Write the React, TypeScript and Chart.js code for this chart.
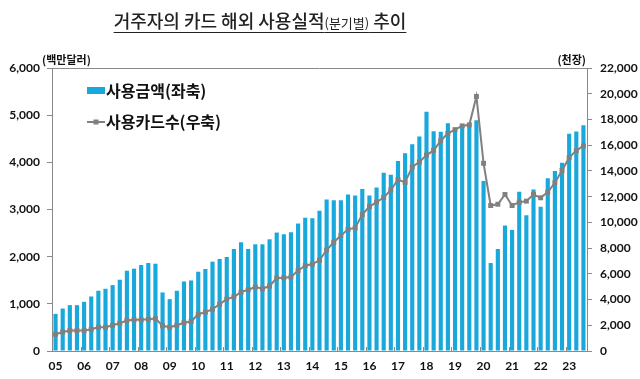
import React, { useEffect, useRef } from "react";
import { Chart, registerables } from "chart.js";

Chart.register(...registerables);

const years = ["05", "06", "07", "08", "09", "10", "11", "12", "13", "14", "15", "16", "17", "18", "19", "20", "21", "22", "23"];
const quarters = ["1Q", "2Q", "3Q", "4Q"];
const categories: string[] = years.flatMap((y) => quarters.map((q) => `${y}.${q}`)).slice(0, 75);

// 사용금액 (백만달러), left axis
const amount = [
  787, 900, 972, 972,
  1043, 1156, 1277, 1319,
  1397, 1511, 1702, 1745,
  1823, 1865, 1851, 1241,
  1099, 1277, 1475, 1496,
  1681, 1738, 1894, 1951,
  1993, 2163, 2305, 2163,
  2262, 2262, 2368, 2511,
  2475, 2518, 2702, 2823,
  2815, 2972, 3213, 3198,
  3198, 3319, 3298, 3433,
  3298, 3468, 3780, 3735,
  4028, 4191, 4383, 4550,
  5070, 4660, 4650, 4830,
  4720, 4810, 4830, 4894,
  3603, 1865, 2163, 2660,
  2567, 3376, 2879, 3426,
  3057, 3660, 3816, 3993,
  4607, 4652, 4787,
];

// 사용카드수 (천장), right axis
const cards = [
  1300, 1480, 1585, 1585,
  1585, 1690, 1845, 1845,
  2000, 2160, 2365, 2420,
  2420, 2470, 2520, 1960,
  1845, 2000, 2200, 2290,
  2860, 3020, 3250, 3640,
  4030, 4210, 4580, 4760,
  4970, 4840, 5050, 5670,
  5700, 5750, 6260, 6630,
  6760, 7050, 7850, 8450,
  8980, 9460, 9570, 10610,
  11230, 11570, 11930, 12520,
  13320, 13110, 14310, 14690,
  15230, 15590, 16350, 16920,
  17210, 17500, 17580, 19790,
  14590, 11310, 11410, 12170,
  11310, 11570, 11650, 12170,
  11910, 12350, 13080, 14040,
  15030, 15580, 15940,
];

const titleMain = "거주자의 카드 해외 사용실적";
const titleSub = "(분기별)";
const titleTail = " 추이";
const leftUnit = "(백만달러)";
const rightUnit = "(천장)";
const legendBar = "사용금액(좌축)";
const legendLine = "사용카드수(우축)";

const BAR = "#18a8dc";
const LINE = "#808080";
const AXIS = "#8a8a8a";
const TXT = "#111111";
const KFONT = "'Noto Sans CJK KR', 'Noto Sans', sans-serif";
const NFONT = "Lato, 'Open Sans', sans-serif";

const decor = {
  id: "decor",
  afterDatasetsDraw(chart: any) {
    const { ctx, chartArea } = chart;
    const xs = chart.scales.x;
    ctx.save();
    // top border
    ctx.strokeStyle = AXIS;
    ctx.lineWidth = 1;
    ctx.beginPath();
    ctx.moveTo(chartArea.left, chartArea.top + 0.5);
    ctx.lineTo(chartArea.right, chartArea.top + 0.5);
    ctx.stroke();
    // year boundary ticks (inside)
    for (let i = 4; i < categories.length; i += 4) {
      const x = Math.round((xs.getPixelForValue(i - 1) + xs.getPixelForValue(i)) / 2) + 0.5;
      ctx.beginPath();
      ctx.moveTo(x, chartArea.bottom);
      ctx.lineTo(x, chartArea.bottom - 4);
      ctx.stroke();
    }
    // legend
    const lx = 87;
    ctx.fillStyle = BAR;
    ctx.fillRect(lx, 87, 18, 7);
    ctx.strokeStyle = LINE;
    ctx.lineWidth = 2;
    ctx.beginPath();
    ctx.moveTo(lx, 122);
    ctx.lineTo(lx + 18, 122);
    ctx.stroke();
    ctx.fillStyle = LINE;
    ctx.fillRect(lx + 9 - 2.5, 122 - 2.5, 5, 5);
    ctx.fillStyle = TXT;
    ctx.font = `bold 16px ${KFONT}`;
    ctx.textBaseline = "middle";
    ctx.textAlign = "left";
    ctx.fillText(legendBar, 106, 91);
    ctx.fillText(legendLine, 106, 122);
    ctx.restore();
  },
};

export default function App() {
  const ref = useRef<HTMLCanvasElement | null>(null);

  useEffect(() => {
    if (!ref.current) return;
    const tickFont = { family: NFONT, size: 12, weight: "bold" as const };
    const chart = new Chart(ref.current, {
      type: "bar",
      data: {
        labels: categories,
        datasets: [
          {
            type: "line",
            label: legendLine,
            data: cards,
            yAxisID: "y1",
            borderColor: LINE,
            backgroundColor: LINE,
            borderWidth: 2,
            pointStyle: "rect",
            pointRadius: 3.5,
            pointBackgroundColor: LINE,
            pointBorderWidth: 0,
            tension: 0,
            order: 0,
          } as any,
          {
            type: "bar",
            label: legendBar,
            data: amount,
            yAxisID: "y",
            backgroundColor: BAR,
            categoryPercentage: 1,
            barPercentage: 0.58,
            order: 1,
          },
        ],
      },
      options: {
        responsive: true,
        maintainAspectRatio: false,
        animation: false,
        layout: { padding: { top: 68, left: 0, right: 0, bottom: 0 } },
        plugins: { legend: { display: false }, tooltip: { enabled: false }, title: { display: false } },
        scales: {
          x: {
            grid: { display: false },
            border: { display: true, color: AXIS },
            ticks: {
              autoSkip: false,
              maxRotation: 0,
              minRotation: 0,
              padding: 0,
              color: TXT,
              font: tickFont,
              callback: (_v: any, i: number) => (i % 4 === 0 ? years[i / 4] : ""),
            },
            afterFit: (s: any) => {
              s.height = 28;
            },
          },
          y: {
            position: "left",
            min: 0,
            max: 6000,
            grid: { drawOnChartArea: false, drawTicks: true, tickLength: 5, color: AXIS },
            border: { display: true, color: AXIS },
            ticks: {
              stepSize: 1000,
              padding: 7,
              color: TXT,
              font: tickFont,
              callback: (v: any) => Number(v).toLocaleString("en-US"),
            },
            afterFit: (s: any) => {
              s.width = 52;
            },
          },
          y1: {
            position: "right",
            min: 0,
            max: 22000,
            grid: { drawOnChartArea: false, drawTicks: true, tickLength: 5, color: AXIS },
            border: { display: true, color: AXIS },
            ticks: {
              stepSize: 2000,
              padding: 8,
              color: TXT,
              font: tickFont,
              callback: (v: any) => Number(v).toLocaleString("en-US"),
            },
            afterFit: (s: any) => {
              s.width = 53;
            },
          },
        },
      },
      plugins: [decor],
    });
    return () => chart.destroy();
  }, []);

  return (
    <div style={{ position: "absolute", left: 0, top: 0, width: 640, height: 379, background: "#fff", overflow: "hidden" }}>
      <canvas ref={ref} style={{ position: "absolute", left: 0, top: 0 }} />
      <div
        style={{
          position: "absolute",
          left: 0,
          width: 520,
          top: 7,
          textAlign: "center",
          fontFamily: KFONT,
          color: "#222",
          whiteSpace: "nowrap",
        }}
      >
        <span style={{ textDecoration: "underline", textUnderlineOffset: 4, textDecorationThickness: 1 }}>
          <span style={{ fontSize: 18, fontWeight: 500 }}>{titleMain}</span>
          <span style={{ fontSize: 13 }}>{titleSub}</span>
          <span style={{ fontSize: 18, fontWeight: 500 }}>{titleTail}</span>
        </span>
      </div>
      <div style={{ position: "absolute", left: 42, top: 51, fontFamily: KFONT, fontSize: 11, fontWeight: 700, color: TXT, whiteSpace: "nowrap" }}>
        {leftUnit}
      </div>
      <div style={{ position: "absolute", right: 640 - 586, top: 51, fontFamily: KFONT, fontSize: 11, fontWeight: 700, color: TXT, whiteSpace: "nowrap" }}>
        {rightUnit}
      </div>
    </div>
  );
}
